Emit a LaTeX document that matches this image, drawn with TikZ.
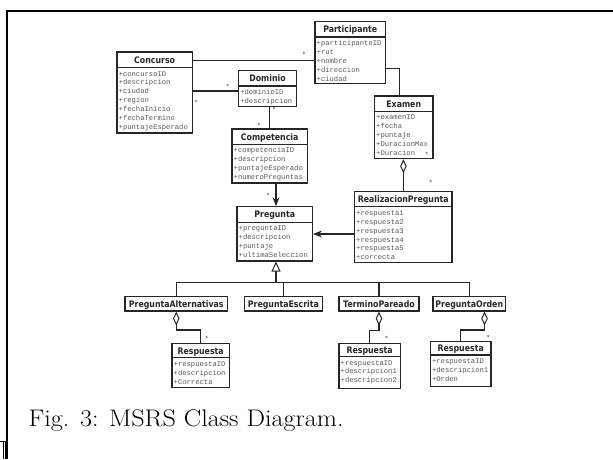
\documentclass[tikz,border=0pt]{standalone}
\usepackage{fontspec}
\usetikzlibrary{arrows.meta,fit}
\newfontfamily\titlefnt[FakeStretch=0.87]{DejaVu Sans}
\newfontfamily\attrfnt{Liberation Mono}
\tikzset{
  clsbox/.style={draw=black!85, line width=1.1pt, inner sep=0pt},
  clstitle/.style={font=\titlefnt\bfseries\fontsize{9}{10}\selectfont, anchor=base, inner sep=0pt, text=black!85},
  attr/.style={font=\attrfnt\fontsize{7.2}{8.9}\selectfont, anchor=base west, inner sep=0pt, text=black!65},
  conn/.style={draw=black!85, line width=1.1pt},
  mult/.style={font=\attrfnt\fontsize{7.2}{8}\selectfont, anchor=base, inner sep=0pt, text=black!75},
  agg/.style={conn, {Diamond[open,length=14pt,width=6.5pt,line width=1pt]}-},
  gen/.style={conn, -{Triangle[open,length=10pt,width=9pt,line width=1pt]}},
  nav/.style={conn, -{Stealth[length=9pt,width=7pt]}},
}
% name, x1, y1, x2, y2, ydiv, title, attributes
\newcommand{\umlclass}[8]{%
  \node[clsbox, fit={(#2,#3) (#4,#5)}] (#1) {};
  \node[clstitle] (#1-t) at ({(#2+#4)/2},{(#3+#6)/2+3.4}) {#7};
  \draw[clsbox] (#2,#6) -- (#4,#6);
  \foreach \a [count=\i from 0] in {#8}
    \node[attr] (#1-a\i) at ({#2+1.5},{#6+8.5+\i*8.9}) {\a};
}
% name, x1, y1, x2, y2, title
\newcommand{\umlsimple}[6]{%
  \node[clsbox, fit={(#2,#3) (#4,#5)}] (#1) {};
  \node[clstitle] (#1-t) at ({(#2+#4)/2},{(#3+#5)/2+3.4}) {#6};
}
\begin{document}
\begin{tikzpicture}[x=1pt,y=-1pt]
\useasboundingbox (0,0) rectangle (613,459);
% frame
\draw[line width=2.2pt] (613,10.7) -- (7.3,10.7) -- (7.3,459);
\draw[line width=1pt] (0,441) -- (7.3,441);
\draw[line width=0.8pt] (3,441) -- (3,459);
\draw[line width=0.8pt] (5.2,441) -- (5.2,459);

\umlclass{participante}{315}{21.7}{385.5}{83.3}{37}{Participante}{+participanteID,+rut,+nombre,+direccion,+ciudad}
\umlclass{concurso}{117}{52}{192.3}{133}{67.5}{Concurso}{+concursoID,+descripcion,+ciudad,+region,+fechaInicio,+fechaTermino,+puntajeEsperado}
\umlclass{dominio}{238.6}{70.7}{296.4}{106.7}{86}{Dominio}{+dominioID,+descripcion}
\umlclass{competencia}{232}{129}{307.3}{183}{144.3}{Competencia}{+competenciaID,+descripcion,+puntajeEsperado,+numeroPreguntas}
\umlclass{examen}{374.5}{96}{433}{158.7}{111.3}{Examen}{+examenID,+fecha,+puntaje,+DuracionMax,+Duracion}
\umlclass{pregunta}{237}{206.7}{312.5}{261}{222.3}{Pregunta}{+preguntaID,+descripcion,+puntaje,+ultimaSeleccion}
\umlclass{realizacion}{354.5}{191.3}{452}{262.8}{206.8}{RealizacionPregunta}{+respuesta1,+respuesta2,+respuesta3,+respuesta4,+respuesta5,+correcta}
\umlsimple{pa}{125}{296.5}{227.5}{311}{PreguntaAlternativas}
\umlsimple{pe}{244.3}{296.5}{322.5}{311}{PreguntaEscrita}
\umlsimple{tp}{339}{296.5}{419}{311}{TerminoPareado}
\umlsimple{po}{433}{296.5}{505.5}{311}{PreguntaOrden}
\umlclass{r1}{172}{343.5}{229.3}{387.3}{357.7}{Respuesta}{+respuestaID,+descripcion,+Correcta}
\umlclass{r2}{339}{343.3}{400.2}{388.3}{356.5}{Respuesta}{+respuestaID,+descripcion1,+descripcion2}
\umlclass{r3}{430.4}{341.3}{491}{386.5}{355}{Respuesta}{+respuestaID,+descripcion1,+Orden}

% connectors
\coordinate (h1) at (0,60.3);
\draw[conn] (concurso.east |- h1) -- (participante.west |- h1);
\coordinate (h2) at (0,91);
\draw[conn] (concurso.east |- h2) -- (dominio.west |- h2);
\coordinate (v1) at (269.3,0);
\draw[conn] (dominio.south -| v1) -- (competencia.north -| v1);
\coordinate (pe1) at (399.3,68.5);
\draw[conn] (participante.east |- pe1) -| (examen.north -| pe1);
\coordinate (v2) at (276,0);
\draw[nav] (competencia.south -| v2) -- (pregunta.north -| v2);
\coordinate (v3) at (403.4,0);
\draw[agg] (examen.south -| v3) -- (realizacion.north -| v3);
\coordinate (h3) at (0,234);
\draw[nav] (realizacion.west |- h3) -- (pregunta.east |- h3);
\coordinate (bus) at (276,282.2);
\draw[gen] (bus) -- (pregunta.south -| bus);
\draw[conn] (pa.north) |- (bus);
\draw[conn] (pe.north) |- (bus);
\draw[conn] (tp.north) |- (bus);
\draw[conn] (po.north) |- (bus);
\coordinate (k1) at (200.7,330);
\draw[agg] (pa.south) |- (k1) -- (r1.north -| k1);
\coordinate (k2) at (369.5,330.7);
\draw[agg] (tp.south) |- (k2) -- (r2.north -| k2);
\coordinate (d3) at (484.5,0);
\coordinate (k3) at (460.8,330);
\draw[agg] (po.south -| d3) |- (k3) -- (r3.north -| k3);

% multiplicities
\node[mult] (m1) at (304,57) {*};
\node[mult] (m2) at (227.7,89) {*};
\node[mult] (m3) at (196,105.4) {*};
\node[mult] (m4) at (274,112.7) {*};
\node[mult] (m5) at (258.7,128) {*};
\node[mult] (m6) at (268.3,198.7) {*};
\node[mult] (m7) at (426.7,157.7) {*};
\node[mult] (m8) at (430.7,185.4) {*};
\node[mult] (m9) at (206.7,341) {*};
\node[mult] (m10) at (386.5,341) {*};
\node[mult] (m11) at (488.3,340.4) {*};

% caption
\node[anchor=base west, inner sep=0pt, font=\fontsize{24}{28}\selectfont] (cap) at (28.5,426.5) {\scalebox{1.09}[1]{Fig. 3: MSRS Class Diagram.}};
\end{tikzpicture}
\end{document}
